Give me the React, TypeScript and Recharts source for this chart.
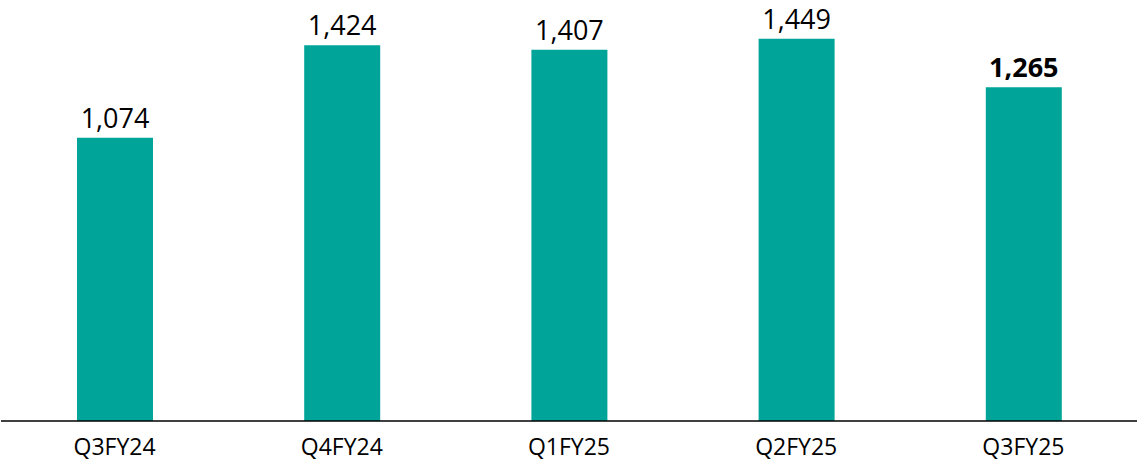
import { BarChart, Bar, XAxis, YAxis, LabelList } from "recharts";

const quarters = ["Q3FY24", "Q4FY24", "Q1FY25", "Q2FY25", "Q3FY25"];
const values = [1074, 1424, 1407, 1449, 1265];

const data = quarters.map((q, i) => ({ q, v: values[i] }));

const FONT = "'Open Sans', sans-serif";

function BarLabel(props: any) {
  const { x, y, width, value, index } = props;
  const last = index === values.length - 1;
  return (
    <text
      x={x + width / 2}
      y={y - 10}
      textAnchor="middle"
      fontFamily={FONT}
      fontSize={27}
      fontWeight={last ? 700 : 400}
      fill="#000"
    >
      {Number(value).toLocaleString("en-US")}
    </text>
  );
}

export default function App() {
  return (
    <div style={{ position: "absolute", left: 1, top: 0 }}>
      <BarChart
        width={1136}
        height={463}
        data={data}
        margin={{ top: 0, right: 0, bottom: 0, left: 0 }}
        barSize={76}
      >
        <XAxis
          dataKey="q"
          height={42}
          tickLine={false}
          tickMargin={12}
          axisLine={{ stroke: "#000", strokeWidth: 1.5 }}
          tick={{ fill: "#000", fontSize: 23, fontFamily: FONT }}
        />
        <YAxis hide domain={[0, 1596]} />
        <Bar dataKey="v" fill="#00A499" isAnimationActive={false}>
          <LabelList dataKey="v" content={<BarLabel />} />
        </Bar>
      </BarChart>
    </div>
  );
}
